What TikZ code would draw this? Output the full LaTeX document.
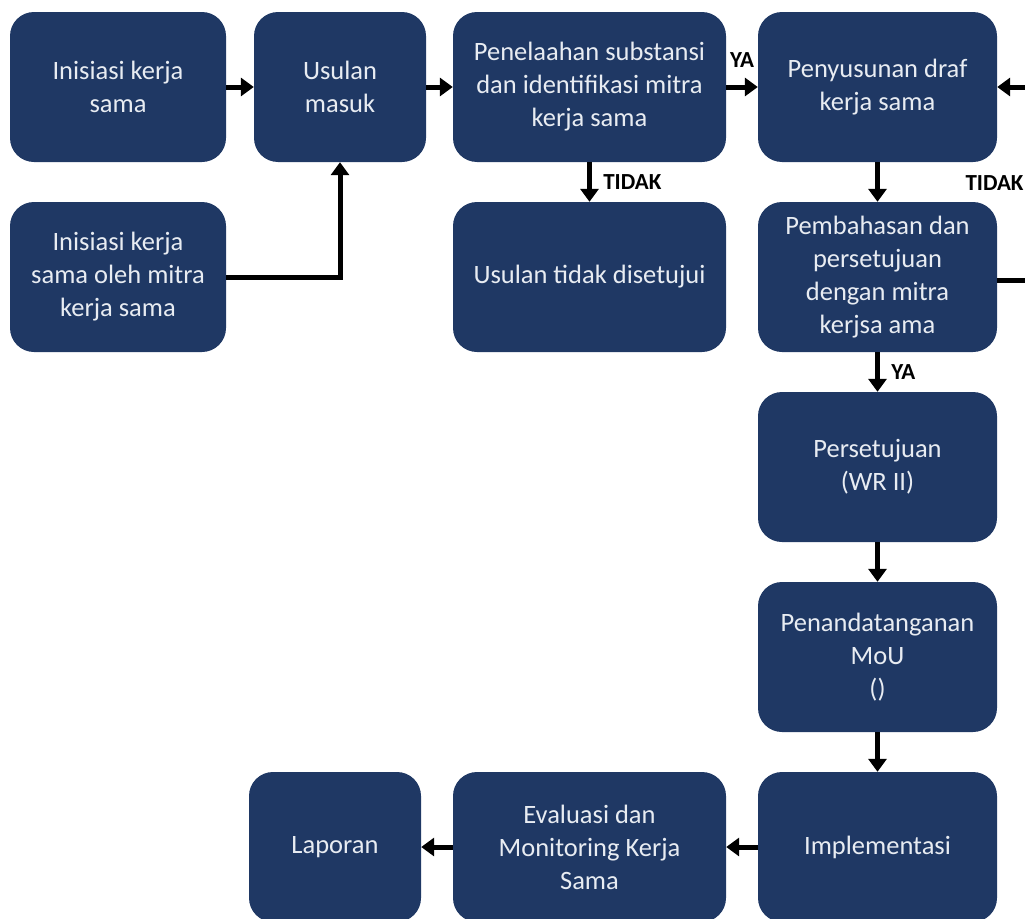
\documentclass[tikz,border=0pt]{standalone}
\usepackage{fontspec}
\setmainfont{Carlito}
\usetikzlibrary{arrows.meta, positioning}
\definecolor{navy}{RGB}{31,56,100}
\definecolor{pale}{RGB}{232,236,242}

\begin{document}
\begin{tikzpicture}[x=1pt, y=-1pt,
	box/.style={fill=navy, rounded corners=24pt, text=pale, align=center,
		minimum height=150pt, inner sep=2pt, font=\fontsize{26.5}{33}\selectfont},
	arr/.style={line width=5pt, -{Triangle[length=13pt,width=18pt]}},
	lbl/.style={font=\fontsize{23}{24}\selectfont\bfseries}]
	% NOTE: y axis points down, one unit is one pixel of the reference.
	\clip (0,0) rectangle (1025,918);

	% top row
	\node[box, minimum width=216pt] (init) at (118,87) {Inisiasi kerja\\sama};
	\node[box, minimum width=172pt] (usulan) at (340,87) {Usulan\\masuk};
	\node[box, minimum width=273pt] (telaah) at (589.5,87) {Penelaahan substansi\\dan identifikasi mitra\\kerja sama};
	\node[box, minimum width=239pt] (draf) at (877.5,87) {Penyusunan draf\\kerja sama};

	% second row
	\node[box, minimum width=216pt] (initmitra) at (118,277) {Inisiasi kerja\\sama oleh mitra\\kerja sama};
	\node[box, minimum width=273pt] (tolak) at (589.5,277) {Usulan tidak disetujui};
	\node[box, minimum width=239pt] (bahas) at (877.5,277) {Pembahasan dan\\persetujuan\\dengan mitra\\kerjsa ama};

	% right column
	\node[box, minimum width=239pt] (setuju) at (877.5,467) {Persetujuan\\(WR II)};
	\node[box, minimum width=239pt] (ttd) at (877.5,657) {Penandatanganan\\MoU\\()};

	% bottom row
	\node[box, minimum width=239pt] (impl) at (877.5,847) {Implementasi};
	\node[box, minimum width=273pt] (evaluasi) at (589.5,847) {Evaluasi dan\\Monitoring Kerja\\Sama};
	\node[box, minimum width=172pt] (laporan) at (335,847) {Laporan};

	\draw[arr] (init) -- (usulan);
	\draw[arr] (initmitra.east) -| (usulan.south);
	\draw[arr] (usulan) -- (telaah);
	\draw[arr] (telaah) -- node[lbl, above=14pt] {YA} (draf);
	\draw[arr] (telaah) -- node[lbl, right=8pt] {TIDAK} (tolak);
	\draw[arr] (draf) -- (bahas);
	\draw[arr] (bahas) -- node[lbl, right=8pt] {YA} (setuju);
	\draw[arr] (setuju) -- (ttd);
	\draw[arr] (ttd) -- (impl);
	\draw[arr] (impl) -- (evaluasi);
	\draw[arr] (evaluasi) -- (laporan);

	% loop back, runs off the right edge
	\coordinate (loopr) at (1045,280);
	\draw[arr] (bahas.east |- loopr) -- (loopr) |- (draf.east);
	\node[lbl, anchor=west] (tidak2) at (962,183) {TIDAK};
\end{tikzpicture}
\end{document}
